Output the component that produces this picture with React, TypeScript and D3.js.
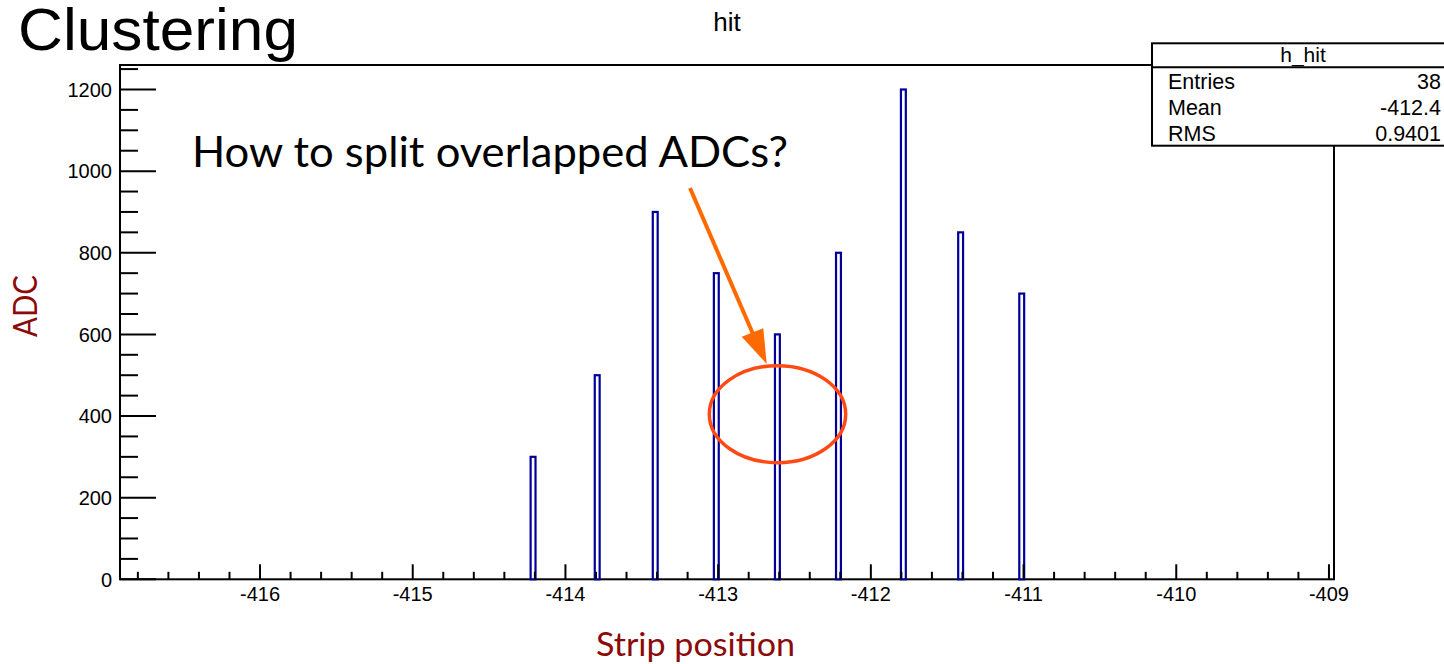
import React from "react";
import * as d3 from "d3";

const positions = [-414.2, -413.78, -413.4, -413.0, -412.6, -412.2, -411.775, -411.4, -411.0];
const adcValues = [300, 500, 900, 750, 600, 800, 1200, 850, 700];
const xTickValues = [-416, -415, -414, -413, -412, -411, -410, -409];
const yTickValues = [0, 200, 400, 600, 800, 1000, 1200];
const statsLabels = ["Entries", "Mean", "RMS"];
const statsValues = ["38", "-412.4", "0.9401"];

const W = 1444, H = 664;
const L = 120, R = 1334, T = 65, B = 579.3;
const ROOT = "'Liberation Sans', Arial, sans-serif";
const LATO = "Lato, 'Open Sans', sans-serif";
const RED = "#8B0A0A";

export default function App() {
  const x = d3.scaleLinear().domain([-416.917, -408.967]).range([L, R]);
  const y = d3.scaleLinear().domain([0, 1260]).range([B, T]);
  const binW = 0.032;

  const xMinor = d3.range(-416.8, -408.95, 0.2).map(v => +v.toFixed(1)).filter(v => Math.abs(v - Math.round(v)) > 0.01);
  const yMinor = d3.range(50, 1260, 50).filter(v => v % 200 !== 0);

  const arrowStart = [690, 188];
  const arrowTip = [766.7, 364];

  return (
    <svg width={W} height={H} style={{ position: "absolute", left: 0, top: 0, background: "#fff" }}>
      <rect x={0} y={0} width={W} height={H} fill="#fff" />
      {/* frame */}
      <rect x={L} y={T} width={R - L} height={B - T} fill="none" stroke="#000" strokeWidth={2} />
      {/* bars */}
      {positions.map((p, i) => (
        <rect key={i} x={x(p - binW + 0.004)} y={y(adcValues[i])} width={x(p + 0.004) - x(p - binW + 0.004)}
          height={B - y(adcValues[i])} fill="#fff" stroke="#000099" strokeWidth={2.2} />
      ))}
      {/* x ticks */}
      {xTickValues.map(v => (
        <g key={v}>
          <line x1={x(v)} x2={x(v)} y1={B} y2={B - 15} stroke="#000" strokeWidth={2} />
          <text x={x(v)} y={601} textAnchor="middle" fontFamily={ROOT} fontSize={20}>{v}</text>
        </g>
      ))}
      {xMinor.map(v => (
        <line key={v} x1={x(v)} x2={x(v)} y1={B} y2={B - 7.5} stroke="#000" strokeWidth={2} />
      ))}
      {/* y ticks */}
      {yTickValues.map(v => (
        <g key={v}>
          <line x1={L} x2={L + 36} y1={y(v)} y2={y(v)} stroke="#000" strokeWidth={2} />
          <text x={112} y={y(v) + 7.3} textAnchor="end" fontFamily={ROOT} fontSize={20}>{v}</text>
        </g>
      ))}
      {yMinor.map(v => (
        <line key={v} x1={L} x2={L + 18} y1={y(v)} y2={y(v)} stroke="#000" strokeWidth={2} />
      ))}
      {/* titles */}
      <text x={18} y={50} fontFamily={ROOT} fontSize={60} textLength={280} lengthAdjust="spacingAndGlyphs">Clustering</text>
      <text x={727} y={30.5} textAnchor="middle" fontFamily={ROOT} fontSize={26}>hit</text>
      <text x={695.5} y={655.5} textAnchor="middle" fontFamily={LATO} fontSize={33} fill={RED} textLength={199} lengthAdjust="spacingAndGlyphs">Strip position</text>
      <text transform={`translate(36.5,306) rotate(-90)`} textAnchor="middle" fontFamily={LATO} fontSize={32} fill={RED} textLength={62} lengthAdjust="spacingAndGlyphs">ADC</text>
      {/* stats box */}
      <rect x={1152} y={43.3} width={310} height={102.4} fill="#fff" stroke="#000" strokeWidth={2} />
      <line x1={1152} x2={1452} y1={67.3} y2={67.3} stroke="#000" strokeWidth={2} />
      <text x={1303} y={61.5} textAnchor="middle" fontFamily={ROOT} fontSize={21}>h_hit</text>
      {statsLabels.map((s, i) => (
        <g key={s}>
          <text x={1168} y={89.3 + i * 25.9} fontFamily={ROOT} fontSize={21.5}>{s}</text>
          <text x={1441} y={89.3 + i * 25.9} textAnchor="end" fontFamily={ROOT} fontSize={21.5}>{statsValues[i]}</text>
        </g>
      ))}
      {/* annotation */}
      <text x={192} y={166.5} fontFamily={LATO} fontSize={43} textLength={596} lengthAdjust="spacingAndGlyphs">How to split overlapped ADCs?</text>
      <line x1={arrowStart[0]} y1={arrowStart[1]} x2={753} y2={334} stroke="#FF6A00" strokeWidth={4} />
      <polygon points={`${arrowTip[0]},${arrowTip[1]} 741.7,336.7 763.3,328.3`} fill="#FF6A00" />
      <ellipse cx={777.5} cy={414.2} rx={68.2} ry={48.5} fill="none" stroke="#FF4A14" strokeWidth={3.5} />
    </svg>
  );
}
